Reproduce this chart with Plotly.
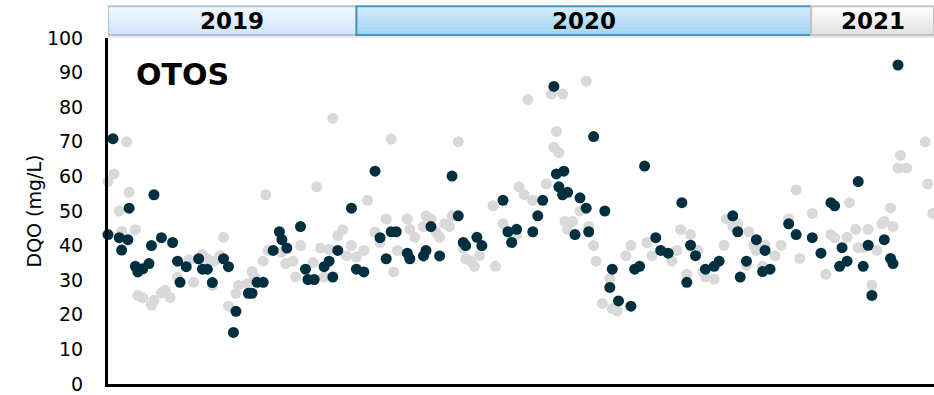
import pandas as pd
import plotly.graph_objects as go

# ---------------- data ----------------
start_date = "2019-06-15"
end_date = "2021-04-10"

# days since start_date, DQO (mg/L) - dark series
dark_days = [0, 4, 9, 11, 16, 17, 22, 24, 28, 33,
             35, 37, 43, 52, 56, 58, 63, 73, 76, 80,
             84, 93, 97, 101, 103, 113, 116, 120, 125, 133,
             138, 140, 144, 155, 159, 161, 166, 174, 178, 181,
             185, 196, 200, 206, 215, 219, 224, 228, 232, 241,
             243, 254, 256, 260, 267, 277, 282, 286, 288, 297,
             301, 318, 322, 325, 329, 342, 346, 350, 359, 361,
             363, 366, 367, 370, 376, 380, 385, 387, 391, 400,
             404, 406, 411, 421, 424, 428, 432, 441, 445, 451,
             462, 466, 469, 473, 481, 488, 492, 503, 507, 509,
             514, 522, 527, 529, 533, 548, 554, 567, 574, 582,
             585, 589, 591, 595, 604, 608, 612, 615, 625, 630,
             632, 636]
dark_values = [43.2, 70.9, 42.3, 38.7, 41.7, 50.8, 34.0, 32.4, 33.3, 34.8,
               40.0, 54.7, 42.3, 40.9, 35.5, 29.4, 33.9, 36.2, 33.2, 33.2,
               29.3, 36.2, 33.9, 14.9, 21.0, 26.2, 26.2, 29.4, 29.4, 38.6,
               44.0, 41.7, 39.3, 45.5, 33.2, 30.2, 30.2, 33.9, 35.5, 30.9,
               38.6, 50.8, 33.2, 32.4, 61.5, 42.3, 36.2, 44.0, 44.0, 37.8,
               36.2, 37.0, 38.6, 45.5, 37.0, 60.1, 48.6, 40.9, 40.0, 42.4,
               40.0, 53.1, 44.0, 40.9, 44.7, 44.0, 48.6, 53.1, 86.0, 60.7,
               57.0, 54.7, 61.5, 55.4, 43.2, 53.8, 50.8, 44.0, 71.5, 50.0,
               27.9, 33.2, 24.0, 22.5, 33.2, 34.0, 63.0, 42.3, 38.6, 37.8,
               52.4, 29.4, 40.1, 37.1, 33.2, 34.0, 35.5, 48.6, 44.0, 30.9,
               35.5, 41.7, 32.5, 38.6, 33.2, 46.3, 43.2, 42.3, 37.8, 52.4,
               51.5, 34.0, 39.4, 35.5, 58.5, 34.0, 40.1, 25.6, 41.7, 36.3,
               34.8, 92.2]

# days since start_date, DQO (mg/L) - light grey series
grey_days = [0, 5, 9, 11, 15, 17, 22, 24, 28, 35,
             37, 43, 46, 50, 56, 65, 69, 76, 80, 84,
             86, 90, 93, 97, 103, 105, 112, 116, 118, 125,
             127, 129, 140, 143, 149, 151, 155, 165, 168, 171,
             174, 178, 181, 185, 189, 192, 196, 200, 206, 209,
             215, 219, 224, 228, 230, 233, 241, 243, 247, 254,
             256, 260, 264, 267, 271, 275, 277, 282, 286, 288,
             292, 295, 299, 310, 312, 318, 329, 331, 335, 338,
             342, 353, 357, 359, 361, 363, 366, 368, 370, 374,
             380, 385, 387, 391, 393, 398, 404, 406, 410, 417,
             421, 434, 438, 454, 458, 461, 466, 469, 475, 479,
             481, 488, 496, 498, 503, 507, 514, 516, 520, 522,
             527, 529, 537, 542, 548, 554, 557, 567, 578, 582,
             585, 595, 597, 602, 604, 608, 612, 615, 619, 623,
             625, 630, 632, 636, 638, 643, 658, 660, 664]
grey_values = [58.5, 60.7, 50.0, 44.1, 70.0, 55.4, 44.6, 25.6, 24.9, 22.8,
               24.2, 26.3, 27.1, 25.0, 30.9, 35.9, 29.4, 37.4, 36.2, 28.5,
               35.5, 37.1, 42.4, 22.5, 26.2, 28.5, 29.0, 32.5, 30.9, 35.5,
               54.7, 38.6, 38.1, 34.8, 35.5, 30.9, 40.0, 35.1, 57.0, 39.3,
               30.9, 38.9, 76.8, 42.9, 44.6, 37.1, 40.0, 36.7, 38.6, 53.1,
               43.9, 40.9, 47.7, 70.8, 32.4, 38.6, 47.7, 44.7, 42.4, 45.5,
               48.6, 47.7, 43.9, 42.4, 46.3, 45.5, 48.6, 70.0, 39.3, 36.2,
               35.5, 34.0, 37.1, 51.5, 34.0, 46.3, 43.2, 57.0, 54.7, 82.2,
               53.1, 57.8, 83.8, 68.4, 73.0, 66.9, 83.8, 47.0, 44.7, 47.0,
               50.0, 87.6, 45.5, 40.0, 35.5, 23.3, 30.5, 21.8, 21.1, 37.1,
               40.0, 40.9, 37.1, 35.5, 38.6, 44.6, 31.7, 43.2, 38.6, 32.5,
               30.9, 30.3, 40.1, 47.7, 45.5, 46.3, 34.3, 44.0, 40.1, 38.6,
               34.0, 40.1, 37.1, 40.1, 47.7, 56.1, 36.3, 49.3, 31.7, 43.2,
               42.3, 42.4, 52.4, 44.7, 39.4, 39.4, 44.7, 28.6, 38.6, 46.3,
               47.0, 50.9, 45.5, 62.4, 66.1, 62.4, 70.0, 57.8, 49.3]

year_labels = ["2019", "2020", "2021"]
year_starts = [start_date, "2020-01-01", "2021-01-01"]
year_ends = ["2020-01-01", "2021-01-01", end_date]

y_ticks = [0, 10, 20, 30, 40, 50, 60, 70, 80, 90, 100]

# ---------------- figure ----------------
t0 = pd.Timestamp(start_date)
dark_x = [t0 + pd.Timedelta(days=d) for d in dark_days]
grey_x = [t0 + pd.Timedelta(days=d) for d in grey_days]

DARK = "#00303F"
GREY = "#D9D9D9"
FONT = "DejaVu Sans"

fig = go.Figure()
fig.add_trace(go.Scatter(x=grey_x, y=grey_values, mode="markers",
                         marker=dict(color=GREY, size=11, line=dict(width=0)),
                         cliponaxis=False, showlegend=False))
fig.add_trace(go.Scatter(x=dark_x, y=dark_values, mode="markers",
                         marker=dict(color=DARK, size=11, line=dict(width=0)),
                         cliponaxis=False, showlegend=False))

# header boxes (gradient imitated with strips)
hdr_bottom, hdr_top = 1.0086, 1.092
styles = [
    (("#F0F7FD", "#CFE5F8"), "#A9C4DC"),
    (("#D2EDFC", "#A2D4F3"), "#4A94C6"),
    (("#FFFFFF", "#E2E2E2"), "#C4C4C4"),
]

def mix(c1, c2, t):
    a = [int(c1[i:i + 2], 16) for i in (1, 3, 5)]
    b = [int(c2[i:i + 2], 16) for i in (1, 3, 5)]
    return "rgb(%d,%d,%d)" % tuple(round(a[k] + (b[k] - a[k]) * t) for k in range(3))

shapes = []
n_strips = 12
for (lab, xs, xe, ((ctop, cbot), border)) in zip(year_labels, year_starts, year_ends, styles):
    h = (hdr_top - hdr_bottom) / n_strips
    for i in range(n_strips):
        y1 = hdr_top - i * h
        y0 = y1 - h - 0.001
        shapes.append(dict(type="rect", xref="x", yref="paper", x0=xs, x1=xe,
                           y0=max(y0, hdr_bottom), y1=y1, line=dict(width=0),
                           fillcolor=mix(ctop, cbot, i / (n_strips - 1)), layer="above"))
# shadow under header
shapes.append(dict(type="rect", xref="paper", yref="paper", x0=0, x1=1,
                   y0=hdr_bottom - 0.008, y1=hdr_bottom, line=dict(width=0),
                   fillcolor="rgba(0,0,0,0.10)", layer="above"))
for (xs, xe, (_, border)) in zip(year_starts, year_ends, styles):
    shapes.append(dict(type="rect", xref="x", yref="paper", x0=xs, x1=xe,
                       y0=hdr_bottom, y1=hdr_top, line=dict(color=border, width=2),
                       fillcolor="rgba(0,0,0,0)", layer="above"))

annotations = []
for lab, xs, xe in zip(year_labels, year_starts, year_ends):
    mid = pd.Timestamp(xs) + (pd.Timestamp(xe) - pd.Timestamp(xs)) / 2
    annotations.append(dict(x=mid, y=(hdr_bottom + hdr_top) / 2, xref="x", yref="paper",
                            text="<b>%s</b>" % lab, showarrow=False,
                            font=dict(family=FONT, size=23, color="black"),
                            xanchor="center", yanchor="middle"))

annotations.append(dict(x=0.0896, y=0.895, xref="paper", yref="paper",
                        text="<b>OTOS</b>", showarrow=False,
                        font=dict(family=FONT, size=30, color="black"),
                        xanchor="center", yanchor="middle"))

fig.update_layout(
    width=934, height=395,
    margin=dict(l=108, r=0, t=38, b=9),
    paper_bgcolor="white", plot_bgcolor="white",
    shapes=shapes, annotations=annotations,
    showlegend=False,
)
fig.update_xaxes(range=[start_date, end_date], type="date",
                 showticklabels=False, ticks="", showgrid=False, zeroline=False,
                 showline=True, linecolor="black", linewidth=3)
fig.update_yaxes(range=[0, 100], tickvals=y_ticks, ticks="",
                 showgrid=False, zeroline=False,
                 showline=True, linecolor="black", linewidth=3,
                 tickfont=dict(family=FONT, size=19, color="black"),
                 ticklabelstandoff=18, ticklabeloverflow="allow",
                 title=dict(text="DQO (mg/L)", standoff=1,
                            font=dict(family=FONT, size=19, color="black")))

fig.write_html("out.html")
